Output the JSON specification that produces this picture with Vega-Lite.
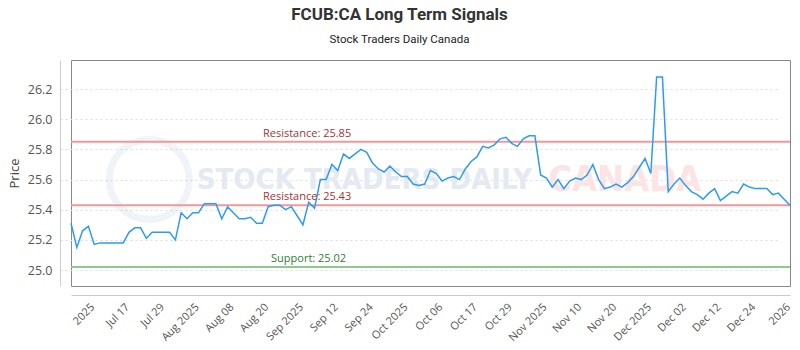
{
  "$schema": "https://vega.github.io/schema/vega-lite/v6.json",
  "width": 719,
  "height": 226,
  "autosize": {"type": "none"},
  "padding": {"left": 71, "top": 60, "right": 10, "bottom": 64},
  "background": "white",
  "title": {
    "text": "FCUB:CA Long Term Signals",
    "subtitle": "Stock Traders Daily Canada",
    "anchor": "middle",
    "dx": -31,
    "offset": 14,
    "font": "Roboto",
    "fontSize": 17,
    "fontWeight": "bold",
    "color": "#333333",
    "subtitleFont": "Roboto",
    "subtitleFontSize": 11.5,
    "subtitleColor": "#222222",
    "subtitlePadding": 10
  },
  "config": {
    "view": {"stroke": "#888888", "strokeWidth": 1},
    "axisX": {
      "labelAngle": -45,
      "labelFont": "Open Sans",
      "labelFontSize": 11,
      "labelColor": "#555555",
      "labelPadding": 6,
      "labelOverlap": false,
      "ticks": false,
      "grid": false,
      "domainColor": "#cccccc",
      "offset": 9
    },
    "axisY": {
      "grid": true,
      "gridDash": [2, 3],
      "gridColor": "#dddddd",
      "ticks": false,
      "domainColor": "#cccccc",
      "offset": 11,
      "labelPadding": 8,
      "labelFont": "Open Sans",
      "labelFontSize": 12.5,
      "labelColor": "#555555",
      "titleFont": "Open Sans",
      "titleFontSize": 13,
      "titleFontWeight": "normal",
      "titleColor": "#444444",
      "titlePadding": 6
    }
  },
  "resolve": {"scale": {"color": "independent", "size": "independent"}},
  "datasets": {
    "price": [
      {"i": 0, "p": 25.31}, {"i": 1, "p": 25.15}, {"i": 2, "p": 25.26}, {"i": 3, "p": 25.29}, {"i": 4, "p": 25.17},
      {"i": 5, "p": 25.18}, {"i": 6, "p": 25.18}, {"i": 7, "p": 25.18}, {"i": 8, "p": 25.18}, {"i": 9, "p": 25.18},
      {"i": 10, "p": 25.25}, {"i": 11, "p": 25.28}, {"i": 12, "p": 25.28}, {"i": 13, "p": 25.21}, {"i": 14, "p": 25.25},
      {"i": 15, "p": 25.25}, {"i": 16, "p": 25.25}, {"i": 17, "p": 25.25}, {"i": 18, "p": 25.20}, {"i": 19, "p": 25.38},
      {"i": 20, "p": 25.34}, {"i": 21, "p": 25.38}, {"i": 22, "p": 25.38}, {"i": 23, "p": 25.44}, {"i": 24, "p": 25.44},
      {"i": 25, "p": 25.44}, {"i": 26, "p": 25.34}, {"i": 27, "p": 25.42}, {"i": 28, "p": 25.38}, {"i": 29, "p": 25.34},
      {"i": 30, "p": 25.34}, {"i": 31, "p": 25.35}, {"i": 32, "p": 25.31}, {"i": 33, "p": 25.31}, {"i": 34, "p": 25.42},
      {"i": 35, "p": 25.43}, {"i": 36, "p": 25.43}, {"i": 37, "p": 25.40}, {"i": 38, "p": 25.42}, {"i": 39, "p": 25.36},
      {"i": 40, "p": 25.30}, {"i": 41, "p": 25.45}, {"i": 42, "p": 25.41}, {"i": 43, "p": 25.60}, {"i": 44, "p": 25.60},
      {"i": 45, "p": 25.70}, {"i": 46, "p": 25.66}, {"i": 47, "p": 25.77}, {"i": 48, "p": 25.74}, {"i": 49, "p": 25.77},
      {"i": 50, "p": 25.80}, {"i": 51, "p": 25.78}, {"i": 52, "p": 25.71}, {"i": 53, "p": 25.67}, {"i": 54, "p": 25.65},
      {"i": 55, "p": 25.69}, {"i": 56, "p": 25.65}, {"i": 57, "p": 25.62}, {"i": 58, "p": 25.62}, {"i": 59, "p": 25.57},
      {"i": 60, "p": 25.56}, {"i": 61, "p": 25.57}, {"i": 62, "p": 25.66}, {"i": 63, "p": 25.64}, {"i": 64, "p": 25.59},
      {"i": 65, "p": 25.61}, {"i": 66, "p": 25.62}, {"i": 67, "p": 25.60}, {"i": 68, "p": 25.67}, {"i": 69, "p": 25.72},
      {"i": 70, "p": 25.75}, {"i": 71, "p": 25.82}, {"i": 72, "p": 25.81}, {"i": 73, "p": 25.83}, {"i": 74, "p": 25.87},
      {"i": 75, "p": 25.88}, {"i": 76, "p": 25.84}, {"i": 77, "p": 25.82}, {"i": 78, "p": 25.87}, {"i": 79, "p": 25.89},
      {"i": 80, "p": 25.89}, {"i": 81, "p": 25.63}, {"i": 82, "p": 25.61}, {"i": 83, "p": 25.55}, {"i": 84, "p": 25.60},
      {"i": 85, "p": 25.54}, {"i": 86, "p": 25.59}, {"i": 87, "p": 25.61}, {"i": 88, "p": 25.60}, {"i": 89, "p": 25.63},
      {"i": 90, "p": 25.70}, {"i": 91, "p": 25.60}, {"i": 92, "p": 25.54}, {"i": 93, "p": 25.55}, {"i": 94, "p": 25.57},
      {"i": 95, "p": 25.55}, {"i": 96, "p": 25.58}, {"i": 97, "p": 25.62}, {"i": 98, "p": 25.68}, {"i": 99, "p": 25.74},
      {"i": 100, "p": 25.64}, {"i": 101, "p": 26.28}, {"i": 102, "p": 26.28}, {"i": 103, "p": 25.52}, {"i": 104, "p": 25.57},
      {"i": 105, "p": 25.61}, {"i": 106, "p": 25.56}, {"i": 107, "p": 25.52}, {"i": 108, "p": 25.50}, {"i": 109, "p": 25.47},
      {"i": 110, "p": 25.51}, {"i": 111, "p": 25.54}, {"i": 112, "p": 25.46}, {"i": 113, "p": 25.49}, {"i": 114, "p": 25.52},
      {"i": 115, "p": 25.51}, {"i": 116, "p": 25.57}, {"i": 117, "p": 25.55}, {"i": 118, "p": 25.54}, {"i": 119, "p": 25.54},
      {"i": 120, "p": 25.54}, {"i": 121, "p": 25.50}, {"i": 122, "p": 25.51}, {"i": 123, "p": 25.47}, {"i": 124, "p": 25.43}
    ],
    "levels": [
      {"kind": "Resistance", "label": "Resistance: 25.85", "p": 25.85, "i": 33.1},
      {"kind": "Resistance", "label": "Resistance: 25.43", "p": 25.43, "i": 33.1},
      {"kind": "Support", "label": "Support: 25.02", "p": 25.02, "i": 34.5}
    ],
    "watermark": [
      {"t": "STOCK TRADERS DAILY", "kind": "brand", "i": 50.6, "p": 25.6},
      {"t": "CANADA", "kind": "country", "i": 95.5, "p": 25.6}
    ],
    "logo": [
      {"i": 13.5, "p": 25.6}
    ]
  },
  "layer": [
    {
      "data": {"name": "logo"},
      "mark": {"type": "point", "shape": "circle", "size": 6400, "filled": false, "stroke": "#8aa2c8", "strokeWidth": 7, "strokeOpacity": 0.18},
      "encoding": {
        "x": {"field": "i", "type": "quantitative", "scale": {"domain": [0, 124], "nice": false, "zero": false},
          "axis": {
            "values": [3, 9, 15, 21, 27, 33, 39, 45, 51, 57, 63, 69, 75, 81, 87, 93, 99, 105, 111, 117, 123],
            "labelExpr": "['2025','Jul 17','Jul 29','Aug 2025','Aug 08','Aug 20','Sep 2025','Sep 12','Sep 24','Oct 2025','Oct 06','Oct 17','Oct 29','Nov 2025','Nov 10','Nov 20','Dec 2025','Dec 02','Dec 12','Dec 24','2026'][round((datum.value - 3) / 6)]",
            "title": null
          }
        },
        "y": {"field": "p", "type": "quantitative", "scale": {"domain": [24.894, 26.393], "nice": false, "zero": false},
          "axis": {"values": [25.0, 25.2, 25.4, 25.6, 25.8, 26.0, 26.2], "format": ".1f", "title": "Price"}
        }
      }
    },
    {
      "data": {"name": "watermark"},
      "mark": {"type": "text", "font": "DejaVu Sans Condensed", "fontWeight": "bold", "align": "center", "baseline": "middle"},
      "encoding": {
        "x": {"field": "i", "type": "quantitative", "scale": {"domain": [0, 124], "nice": false, "zero": false},
          "axis": {
            "values": [3, 9, 15, 21, 27, 33, 39, 45, 51, 57, 63, 69, 75, 81, 87, 93, 99, 105, 111, 117, 123],
            "labelExpr": "['2025','Jul 17','Jul 29','Aug 2025','Aug 08','Aug 20','Sep 2025','Sep 12','Sep 24','Oct 2025','Oct 06','Oct 17','Oct 29','Nov 2025','Nov 10','Nov 20','Dec 2025','Dec 02','Dec 12','Dec 24','2026'][round((datum.value - 3) / 6)]",
            "title": null
          }
        },
        "y": {"field": "p", "type": "quantitative", "scale": {"domain": [24.894, 26.393], "nice": false, "zero": false},
          "axis": {"values": [25.0, 25.2, 25.4, 25.6, 25.8, 26.0, 26.2], "format": ".1f", "title": "Price"}
        },
        "text": {"field": "t"},
        "size": {"field": "kind", "type": "nominal", "scale": {"domain": ["brand", "country"], "range": [29, 36]}, "legend": null},
        "color": {"field": "kind", "type": "nominal", "scale": {"domain": ["brand", "country"], "range": ["#e4e9f2", "#fde4e4"]}, "legend": null}
      }
    },
    {
      "data": {"name": "levels"},
      "mark": {"type": "rule", "strokeWidth": 2},
      "encoding": {
        "y": {"field": "p", "type": "quantitative", "scale": {"domain": [24.894, 26.393], "nice": false, "zero": false},
          "axis": {"values": [25.0, 25.2, 25.4, 25.6, 25.8, 26.0, 26.2], "format": ".1f", "title": "Price"}
        },
        "color": {"field": "kind", "type": "nominal", "scale": {"domain": ["Resistance", "Support"], "range": ["#ef9a9a", "#8fc98f"]}, "legend": null}
      }
    },
    {
      "data": {"name": "price"},
      "mark": {"type": "line", "color": "#2d9cf0", "strokeWidth": 1.5},
      "encoding": {
        "x": {"field": "i", "type": "quantitative", "scale": {"domain": [0, 124], "nice": false, "zero": false},
          "axis": {
            "values": [3, 9, 15, 21, 27, 33, 39, 45, 51, 57, 63, 69, 75, 81, 87, 93, 99, 105, 111, 117, 123],
            "labelExpr": "['2025','Jul 17','Jul 29','Aug 2025','Aug 08','Aug 20','Sep 2025','Sep 12','Sep 24','Oct 2025','Oct 06','Oct 17','Oct 29','Nov 2025','Nov 10','Nov 20','Dec 2025','Dec 02','Dec 12','Dec 24','2026'][round((datum.value - 3) / 6)]",
            "title": null
          }
        },
        "y": {"field": "p", "type": "quantitative", "scale": {"domain": [24.894, 26.393], "nice": false, "zero": false},
          "axis": {"values": [25.0, 25.2, 25.4, 25.6, 25.8, 26.0, 26.2], "format": ".1f", "title": "Price"}
        }
      }
    },
    {
      "data": {"name": "levels"},
      "mark": {"type": "text", "align": "left", "baseline": "alphabetic", "dy": -5, "font": "Open Sans", "fontSize": 11},
      "encoding": {
        "x": {"field": "i", "type": "quantitative", "scale": {"domain": [0, 124], "nice": false, "zero": false},
          "axis": {
            "values": [3, 9, 15, 21, 27, 33, 39, 45, 51, 57, 63, 69, 75, 81, 87, 93, 99, 105, 111, 117, 123],
            "labelExpr": "['2025','Jul 17','Jul 29','Aug 2025','Aug 08','Aug 20','Sep 2025','Sep 12','Sep 24','Oct 2025','Oct 06','Oct 17','Oct 29','Nov 2025','Nov 10','Nov 20','Dec 2025','Dec 02','Dec 12','Dec 24','2026'][round((datum.value - 3) / 6)]",
            "title": null
          }
        },
        "y": {"field": "p", "type": "quantitative", "scale": {"domain": [24.894, 26.393], "nice": false, "zero": false},
          "axis": {"values": [25.0, 25.2, 25.4, 25.6, 25.8, 26.0, 26.2], "format": ".1f", "title": "Price"}
        },
        "text": {"field": "label"},
        "color": {"field": "kind", "type": "nominal", "scale": {"domain": ["Resistance", "Support"], "range": ["#a83232", "#2e7d32"]}, "legend": null}
      }
    }
  ]
}
